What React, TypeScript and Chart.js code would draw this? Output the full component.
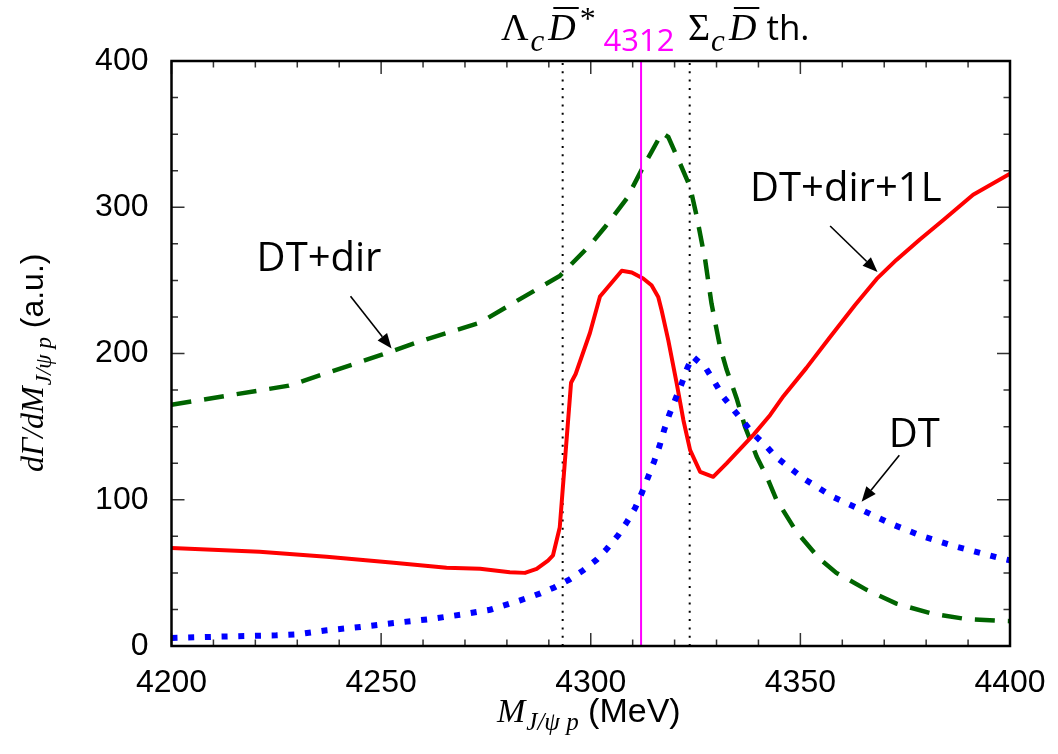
import React, { useEffect, useRef } from "react";
import { Chart, registerables } from "chart.js";

Chart.register(...registerables);

// ---------------- data ----------------
const xTickValues = [4200, 4250, 4300, 4350, 4400];
const yTickValues = [0, 100, 200, 300, 400];

// DT + dir + 1L (red, solid)
const fullMass = [
  4200, 4221, 4237, 4253, 4265.6, 4273.6, 4280.7, 4284.3, 4287.1, 4289.8, 4291,
  4292.6, 4293.8, 4295.3, 4296.4, 4299.8, 4302.2, 4307.4, 4309.8, 4312.5, 4314.5,
  4316.1, 4316.9, 4318.5, 4320.5, 4322.1, 4323.7, 4326.1, 4329.2, 4332.4, 4338.9,
  4342.8, 4346, 4351.4, 4357, 4363, 4368.2, 4372.9, 4378.5, 4384.1, 4391.2, 4400,
];
const fullValues = [
  67, 64.5, 61, 57, 53.5, 52.8, 50.5, 50, 52.7, 58.4, 62,
  81, 125, 180, 186, 214, 239, 256.6, 255.4, 251.3, 246.7,
  238.7, 229.6, 209, 179.5, 154.4, 133.9, 119.1, 115.7, 124.9, 144.7,
  158, 171, 190, 211, 233, 251, 264, 278, 291.3, 308.5, 323,
];

// DT + dir (green, dashed)
const dirMass = [
  4200, 4228, 4250, 4260, 4273.5, 4283, 4292.6, 4299.8, 4303.4, 4308.6, 4312.5,
  4314.5, 4317, 4318.5, 4321.3, 4323.7, 4325.3, 4327.3, 4328.8, 4330.8, 4332.4,
  4334.8, 4336.8, 4339.6, 4342, 4344.3, 4349, 4354.6, 4358.6, 4365.8, 4372.9,
  4381.7, 4389.6, 4397.6, 4400,
];
const dirValues = [
  165, 178, 199, 209, 221, 237, 253, 274, 286.5, 306, 327.6,
  337.8, 351, 348, 329.9, 313.9, 293.4, 263.8, 234.2, 205, 189,
  169.3, 149.9, 129.4, 115.7, 100, 78.4, 59.5, 50, 38.4, 29,
  21.9, 18.4, 17.2, 17,
];

// DT (blue, dotted)
const dtMass = [
  4200, 4214, 4225, 4230, 4237, 4245, 4253, 4261, 4269, 4276, 4283, 4288, 4291.3,
  4295, 4298.2, 4301.4, 4303.8, 4306.6, 4308.6, 4310.6, 4312.2, 4313.7, 4315.1,
  4316.4, 4317.5, 4318.7, 4320.2, 4321.7, 4323, 4324.3, 4327.5, 4329.6, 4331.6,
  4334, 4336.4, 4338.9, 4342, 4344.3, 4350.6, 4357.8, 4365, 4372.1, 4379.3,
  4387.3, 4398.4, 4400,
];
const dtValues = [
  5.5, 6.6, 7.3, 8, 10.7, 13, 15.7, 18.2, 21.4, 24.8, 31, 36, 40,
  45.6, 51.7, 59, 66.3, 76, 84.6, 94.4, 104.8, 115.7, 126,
  136.7, 147.6, 158, 168.8, 179.5, 189.8, 198, 189.8, 180.2, 170.4,
  161.8, 153.3, 144.7, 136.2, 129, 114.8, 101.9, 92.5, 83, 74.8,
  67.8, 59.5, 58.5,
];

// thresholds and Pc(4312) position (MeV)
const lambdaCDbarStarThreshold = 4293.3;
const sigmaCDbarThreshold = 4323.6;
const pcMass = 4312;
const pcLabel = "4312";

// annotation labels: text anchor (left, baseline) and arrow (from -> to), in data units
const annotations = [
  { text: "DT+dir", at: [4220.3, 256.4], from: [4242.7, 239.2], to: [4252.5, 203.4] },
  { text: "DT+dir+1L", at: [4338.0, 304.3], from: [4357.1, 287.2], to: [4368.4, 255.8] },
  { text: "DT", at: [4371.1, 136.2], from: [4373.6, 130.5], to: [4364.6, 98.6] },
];

const toPoints = (xs: number[], ys: number[]) => xs.map((x, i) => ({ x, y: ys[i] }));

const SERIF = '"Liberation Serif", "DejaVu Serif", serif';
const SANS = '"Liberation Sans", Arial, sans-serif';
const LABEL_FONT = '"Open Sans", "Noto Sans", sans-serif';

function drawArrow(ctx: CanvasRenderingContext2D, x1: number, y1: number, x2: number, y2: number) {
  const ang = Math.atan2(y2 - y1, x2 - x1);
  const hl = 15;
  const hw = 6;
  const bx = x2 - hl * Math.cos(ang);
  const by = y2 - hl * Math.sin(ang);
  ctx.beginPath();
  ctx.moveTo(x1, y1);
  ctx.lineTo(bx, by);
  ctx.stroke();
  ctx.beginPath();
  ctx.moveTo(x2, y2);
  ctx.lineTo(bx + hw * Math.sin(ang), by - hw * Math.cos(ang));
  ctx.lineTo(bx - hw * Math.sin(ang), by + hw * Math.cos(ang));
  ctx.closePath();
  ctx.fill();
}

type Seg = { text: string; font: string; dy?: number; color?: string; gap?: number; overline?: number };

function drawRun(ctx: CanvasRenderingContext2D, x: number, y: number, segs: Seg[]) {
  let cx = x;
  for (const s of segs) {
    cx += s.gap || 0;
    ctx.font = s.font;
    ctx.fillStyle = s.color || "#000";
    ctx.fillText(s.text, cx, y + (s.dy || 0));
    const w = ctx.measureText(s.text).width;
    if (s.overline) {
      ctx.save();
      ctx.strokeStyle = s.color || "#000";
      ctx.lineWidth = 2;
      ctx.beginPath();
      ctx.moveTo(cx + 5, y - s.overline);
      ctx.lineTo(cx + w + 3, y - s.overline);
      ctx.stroke();
      ctx.restore();
    }
    cx += w;
  }
  return cx;
}

const decorPlugin = {
  id: "decor",
  afterDraw(chart: any) {
    const ctx: CanvasRenderingContext2D = chart.ctx;
    const xs = chart.scales.x;
    const ys = chart.scales.y;
    const { left, right, top, bottom } = chart.chartArea;
    ctx.save();

    // inward ticks on all four sides
    ctx.strokeStyle = "#333";
    ctx.lineWidth = 1.5;
    for (let v = 4200; v <= 4400; v += 10) {
      const px = xs.getPixelForValue(v);
      const len = v % 50 === 0 ? 13 : 6.5;
      ctx.beginPath();
      ctx.moveTo(px, bottom);
      ctx.lineTo(px, bottom - len);
      ctx.moveTo(px, top);
      ctx.lineTo(px, top + len);
      ctx.stroke();
    }
    for (let v = 0; v <= 400; v += 25) {
      const py = ys.getPixelForValue(v);
      const len = v % 100 === 0 ? 13 : 6.5;
      ctx.beginPath();
      ctx.moveTo(left, py);
      ctx.lineTo(left + len, py);
      ctx.moveTo(right, py);
      ctx.lineTo(right - len, py);
      ctx.stroke();
    }

    // frame
    ctx.strokeStyle = "#000";
    ctx.lineWidth = 2.5;
    ctx.strokeRect(left, top, right - left, bottom - top);

    // annotations
    ctx.strokeStyle = "#000";
    ctx.lineWidth = 1.6;
    ctx.textBaseline = "alphabetic";
    ctx.textAlign = "left";
    for (const a of annotations) {
      ctx.font = `40px ${LABEL_FONT}`;
      ctx.fillStyle = "#000";
      ctx.fillText(a.text, xs.getPixelForValue(a.at[0]), ys.getPixelForValue(a.at[1]));
      drawArrow(
        ctx,
        xs.getPixelForValue(a.from[0]),
        ys.getPixelForValue(a.from[1]),
        xs.getPixelForValue(a.to[0]),
        ys.getPixelForValue(a.to[1])
      );
    }

    // threshold labels above the frame
    const base = top - 21;
    drawRun(ctx, 501, base, [
      { text: "Λ", font: `38px ${SERIF}` },
      { text: "c", font: `italic 31px ${SERIF}`, dy: 11, gap: 2 },
      { text: "D", font: `italic 38px ${SERIF}`, gap: 4, overline: 32 },
      { text: "*", font: `32px ${SERIF}`, dy: -11, gap: 4 },
    ]);
    ctx.font = `31px ${LABEL_FONT}`;
    const pcW = ctx.measureText(pcLabel).width;
    ctx.fillStyle = "#ff00ff";
    ctx.fillText(pcLabel, xs.getPixelForValue(pcMass) - pcW / 2 - 2, base + 11);
    drawRun(ctx, 688, base, [
      { text: "Σ", font: `38px ${SERIF}` },
      { text: "c", font: `italic 31px ${SERIF}`, dy: 11, gap: 1 },
      { text: "D", font: `italic 38px ${SERIF}`, gap: 4, overline: 32 },
      { text: " th.", font: `35px ${LABEL_FONT}`, gap: 1 },
    ]);

    // x axis title
    drawRun(ctx, 497, 722, [
      { text: "M", font: `italic 34px ${SERIF}` },
      { text: "J/ψ p", font: `italic 25px ${SERIF}`, dy: 8, gap: 1 },
      { text: " (MeV)", font: `34px ${SANS}` },
    ]);

    // y axis title (rotated)
    ctx.save();
    ctx.translate(43, 472);
    ctx.rotate(-Math.PI / 2);
    drawRun(ctx, 0, 0, [
      { text: "dΓ/dM", font: `italic 32px ${SERIF}` },
      { text: "J/ψ p", font: `italic 23px ${SERIF}`, dy: 8, gap: 1 },
      { text: " (a.u.)", font: `32px ${SANS}` },
    ]);
    ctx.restore();

    ctx.restore();
  },
};

export default function App() {
  const ref = useRef<HTMLCanvasElement>(null);
  useEffect(() => {
    const canvas = ref.current;
    if (!canvas) return;
    const chart = new Chart(canvas, {
      type: "line",
      data: {
        datasets: [
          {
            label: "DT",
            data: toPoints(dtMass, dtValues),
            borderColor: "#0000ff",
            borderWidth: 6,
            borderDash: [6, 10.7],
            borderCapStyle: "butt",
            pointRadius: 0,
            tension: 0,
            fill: false,
            order: 0,
          },
          {
            label: "Pc(4312)",
            data: [
              { x: pcMass, y: 0 },
              { x: pcMass, y: 400 },
            ],
            borderColor: "#ff00ff",
            borderWidth: 2,
            pointRadius: 0,
            order: 1,
          },
          {
            label: "DT+dir+1L",
            data: toPoints(fullMass, fullValues),
            borderColor: "#ff0000",
            borderWidth: 4,
            pointRadius: 0,
            tension: 0,
            borderJoinStyle: "round",
            fill: false,
            order: 2,
          },
          {
            label: "DT+dir",
            data: toPoints(dirMass, dirValues),
            borderColor: "#006400",
            borderWidth: 4.5,
            borderDash: [20, 13],
            borderCapStyle: "butt",
            pointRadius: 0,
            tension: 0,
            fill: false,
            order: 3,
          },
          {
            label: "LcD*bar th",
            data: [
              { x: lambdaCDbarStarThreshold, y: 0 },
              { x: lambdaCDbarStarThreshold, y: 400 },
            ],
            borderColor: "#000",
            borderWidth: 2,
            borderDash: [2, 6.3],
            pointRadius: 0,
            order: 4,
          },
          {
            label: "ScDbar th",
            data: [
              { x: sigmaCDbarThreshold, y: 0 },
              { x: sigmaCDbarThreshold, y: 400 },
            ],
            borderColor: "#000",
            borderWidth: 2,
            borderDash: [2, 6.3],
            pointRadius: 0,
            order: 5,
          },
        ],
      },
      options: {
        animation: false,
        responsive: false,
        devicePixelRatio: 1,
        events: [],
        layout: { padding: { top: 61, right: 48, left: 0, bottom: 0 } },
        plugins: { legend: { display: false }, tooltip: { enabled: false } },
        scales: {
          x: {
            type: "linear",
            min: 4200,
            max: 4400,
            grid: { display: false, drawTicks: false },
            border: { display: false },
            afterBuildTicks: (s: any) => {
              s.ticks = xTickValues.map((v) => ({ value: v }));
            },
            ticks: {
              font: { family: SANS, size: 32 },
              color: "#000",
              padding: 18,
              maxRotation: 0,
              autoSkip: false,
              callback: (v: any) => String(v),
            },
            afterFit: (s: any) => {
              s.height = 108;
              s.paddingLeft = 0;
              s.paddingRight = 0;
            },
          },
          y: {
            type: "linear",
            min: 0,
            max: 400,
            grid: { display: false, drawTicks: false },
            border: { display: false },
            afterBuildTicks: (s: any) => {
              s.ticks = yTickValues.map((v) => ({ value: v }));
            },
            ticks: {
              font: { family: SANS, size: 32 },
              color: "#000",
              padding: 23,
              callback: (v: any) => String(v),
            },
            afterFit: (s: any) => {
              s.width = 171.5;
              s.paddingTop = 0;
              s.paddingBottom = 0;
            },
          },
        },
      },
      plugins: [decorPlugin],
    } as any);
    return () => chart.destroy();
  }, []);
  return (
    <div style={{ position: "fixed", left: 0, top: 0, width: 1058, height: 754, background: "#fff" }}>
      <canvas ref={ref} width={1058} height={754} style={{ display: "block", width: 1058, height: 754 }} />
    </div>
  );
}
